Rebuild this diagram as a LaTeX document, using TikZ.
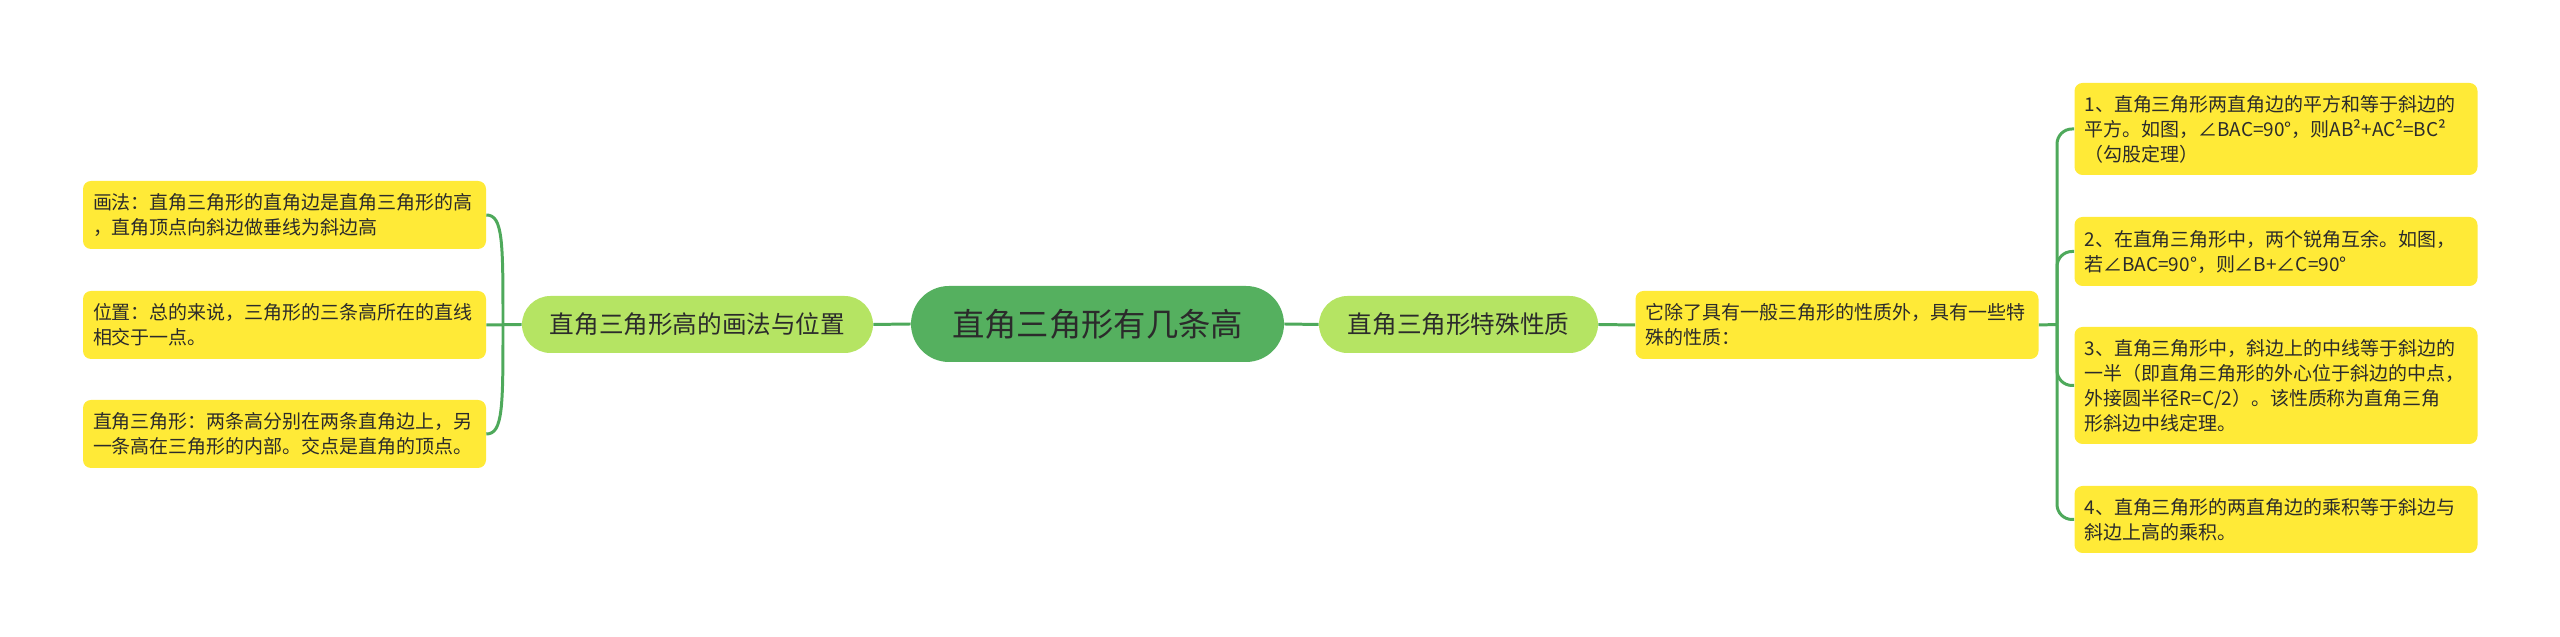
\documentclass[tikz,border=0pt]{standalone}
\usepackage{fontspec}
\setmainfont{Noto Sans CJK SC}
\usepackage{xcolor}
\usetikzlibrary{positioning}
\usetikzlibrary{calc}
\definecolor{rootGreen}{HTML}{55B05F}
\definecolor{subGreen}{HTML}{B5E463}
\definecolor{noteYellow}{HTML}{FFEA37}
\definecolor{linkGreen}{HTML}{4EA95B}
\definecolor{inkDark}{HTML}{2B2B2B}
\tikzset{rootBox/.style={fill=rootGreen, text=inkDark, rounded corners=0.76cm, minimum width=7.46cm, minimum height=1.52cm, font=\fontsize{18.4}{22}\selectfont}}
\tikzset{subBox/.style={fill=subGreen, text=inkDark, rounded corners=0.57cm, minimum height=1.14cm, font=\fontsize{14}{17}\selectfont}}
\tikzset{noteBox/.style={fill=noteYellow, text=inkDark, rounded corners=0.16cm, inner xsep=0.2cm, inner ysep=0cm, text width=7.66cm, align=left, font=\fontsize{10.8}{14.2}\selectfont}}
\tikzset{link/.style={draw=linkGreen, line width=1.7pt}}

\begin{document}
\begin{tikzpicture}

\useasboundingbox (0, 0) rectangle (51.2, 12.74);

\node[rootBox] (root) at (21.95, 6.26) {直角三角形有几条高};
\node[subBox, minimum width=7.02cm] (drawSub) at (13.95, 6.25) {直角三角形高的画法与位置};
\node[subBox, minimum width=5.58cm] (propSub) at (29.17, 6.25) {直角三角形特殊性质};

\node[noteBox, minimum height=1.36cm] (l1) at (5.69, 8.44) {画法：直角三角形的直角边是直角三角形的高\\，直角顶点向斜边做垂线为斜边高};
\node[noteBox, minimum height=1.36cm] (l2) at (5.69, 6.24) {位置：总的来说，三角形的三条高所在的直线\\相交于一点。};
\node[noteBox, minimum height=1.36cm] (l3) at (5.69, 4.06) {直角三角形：两条高分别在两条直角边上，另\\一条高在三角形的内部。交点是直角的顶点。};

\node[noteBox, minimum height=1.36cm] (intro) at (36.74, 6.24) {它除了具有一般三角形的性质外，具有一些特\\殊的性质：};

\node[noteBox, minimum height=1.84cm] (r1) at (45.52, 10.16) {1、直角三角形两直角边的平方和等于斜边的\\平方。如图，∠BAC=90°，则AB²+AC²=BC²\\（勾股定理）};
\node[noteBox, minimum height=1.38cm] (r2) at (45.52, 7.71) {2、在直角三角形中，两个锐角互余。如图，\\若∠BAC=90°，则∠B+∠C=90°};
\node[noteBox, minimum height=2.34cm] (r3) at (45.52, 5.03) {3、直角三角形中，斜边上的中线等于斜边的\\一半（即直角三角形的外心位于斜边的中点，\\外接圆半径R=C/2）。该性质称为直角三角\\形斜边中线定理。};
\node[noteBox, minimum height=1.34cm] (r4) at (45.52, 2.35) {4、直角三角形的两直角边的乘积等于斜边与\\斜边上高的乘积。};

\coordinate (lhub) at (10.06, 6.25);
\coordinate (rhub) at (41.14, 6.25);

\draw[link] (root.west) -- (drawSub.east);
\draw[link] (root.east) -- (propSub.west);
\draw[link] (propSub.east) -- (intro.west);

\draw[link] (drawSub.west) -- (l2.east);
\draw[link] (l1.east) .. controls (10.06, 8.44) and (10.06, 7.9) .. (lhub);
\draw[link] (l3.east) .. controls (10.06, 4.06) and (10.06, 4.6) .. (lhub);

\draw[link] (intro.east) -- (rhub);
\draw[link, rounded corners=0.3cm] (r1.west) -| (rhub) |- (r4.west);
\draw[link, rounded corners=0.3cm] (r2.west) -| (rhub);
\draw[link, rounded corners=0.3cm] (r3.west) -| (rhub);

\end{tikzpicture}
\end{document}
